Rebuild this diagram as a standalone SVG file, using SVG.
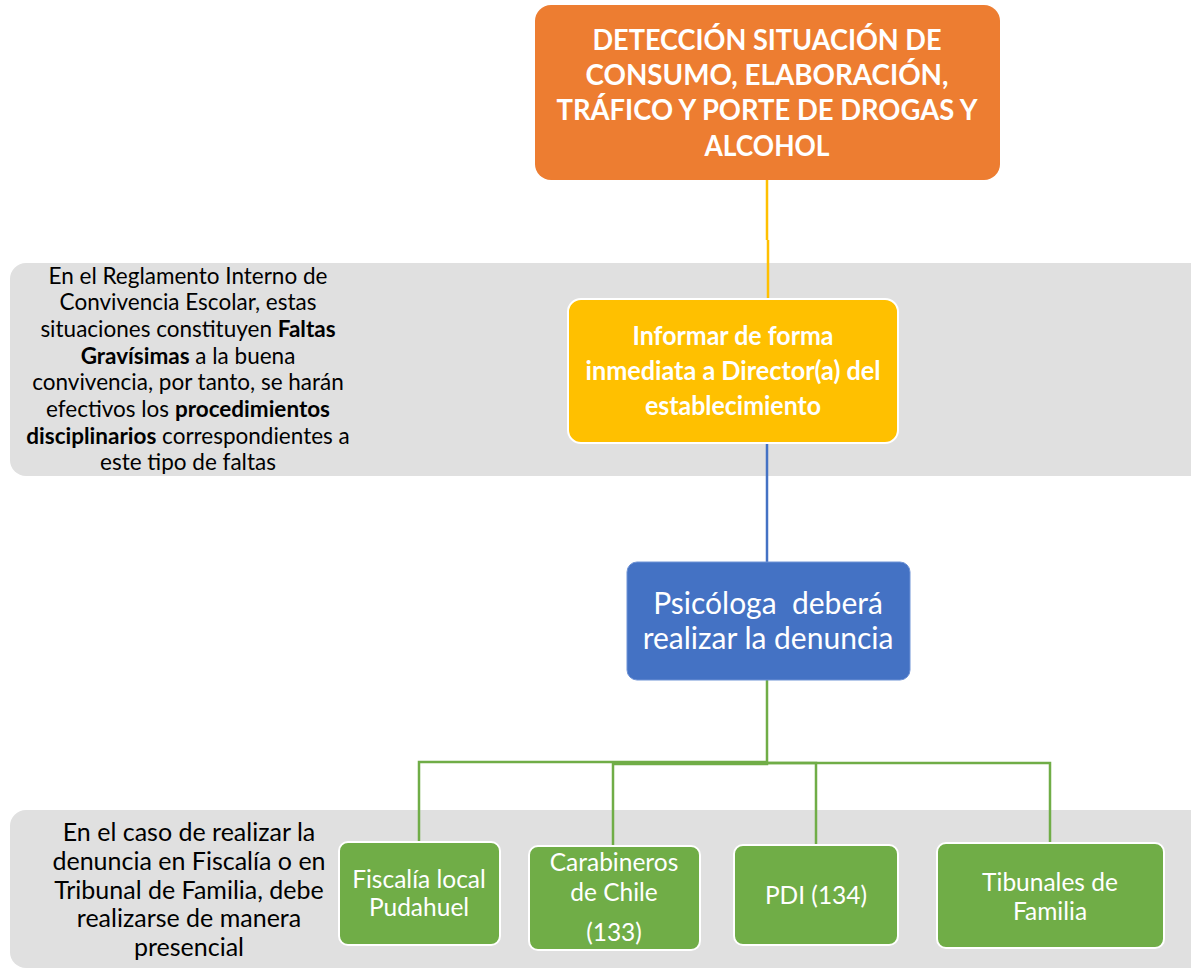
<svg xmlns="http://www.w3.org/2000/svg" width="1191" height="975" viewBox="0 0 1191 975">
<style>
.t{font-family:Lato,"Liberation Sans",sans-serif;text-anchor:middle}
.w{fill:#ffffff}
.k{fill:#000000}
.b{font-weight:bold}
.band{fill:#e0e0e0}
.conn{fill:none;stroke-width:2.5}
</style>
<rect width="1191" height="975" fill="#ffffff"/>
<g id="band1"><rect class="band" x="10" y="263" width="1200" height="213" rx="16"/></g>
<g id="band2"><rect class="band" x="10" y="810" width="1200" height="158" rx="16"/></g>
<g id="connectors">
<path class="conn" stroke="#FFC000" d="M767 180 V240 M768 240 V299"/>
<path class="conn" stroke="#4472C4" d="M767 443 V562"/>
<path class="conn" stroke="#70AD47" d="M767 680 V762 H419 V842"/>
<path class="conn" stroke="#70AD47" d="M767 762 V764 H613 V846"/>
<path class="conn" stroke="#70AD47" d="M767 763 H816 V845"/>
<path class="conn" stroke="#70AD47" d="M767 763 H1050 V843"/>
</g>
<g id="n-deteccion">
<rect x="535" y="5" width="465" height="175" rx="16" fill="#ED7D31"/>
<text class="t w b" font-size="29"><tspan x="767" y="50" textLength="349" lengthAdjust="spacingAndGlyphs">DETECCIÓN SITUACIÓN DE</tspan><tspan x="767" y="85" textLength="363" lengthAdjust="spacingAndGlyphs">CONSUMO, ELABORACIÓN,</tspan><tspan x="767" y="120" textLength="421" lengthAdjust="spacingAndGlyphs">TRÁFICO Y PORTE DE DROGAS Y</tspan><tspan x="767" y="156" textLength="125" lengthAdjust="spacingAndGlyphs">ALCOHOL</tspan></text>
</g>
<g id="n-informar">
<rect x="568" y="299" width="330" height="144" rx="13" fill="#FFC000" stroke="#ffffff" stroke-width="2"/>
<text class="t w b" font-size="26"><tspan x="733" y="345" textLength="201" lengthAdjust="spacingAndGlyphs">Informar de forma</tspan><tspan x="733" y="380" textLength="295" lengthAdjust="spacingAndGlyphs">inmediata a Director(a) del</tspan><tspan x="733" y="415" textLength="176" lengthAdjust="spacingAndGlyphs">establecimiento</tspan></text>
</g>
<g id="n-nota1">
<text class="t k" font-size="22.5"><tspan x="188" y="284">En el Reglamento Interno de</tspan><tspan x="188" y="310">Convivencia Escolar, estas</tspan><tspan x="188" y="337">situaciones constituyen <tspan class="b">Faltas</tspan></tspan><tspan x="188" y="364"><tspan class="b">Gravísimas</tspan> a la buena</tspan><tspan x="188" y="390">convivencia, por tanto, se harán</tspan><tspan x="188" y="417">efectivos los <tspan class="b">procedimientos</tspan></tspan><tspan x="188" y="444"><tspan class="b">disciplinarios</tspan> correspondientes a</tspan><tspan x="188" y="470">este tipo de faltas</tspan></text>
</g>
<g id="n-psicologa">
<rect x="627" y="562" width="283" height="118" rx="10" fill="#4472C4" stroke="#6f93d6" stroke-width="1"/>
<text class="t w" font-size="30"><tspan x="768" y="614" xml:space="preserve">Psicóloga  deberá</tspan><tspan x="768" y="649">realizar la denuncia</tspan></text>
</g>
<g id="n-nota2">
<text class="t k" font-size="25"><tspan x="189" y="841">En el caso de realizar la</tspan><tspan x="189" y="870">denuncia en Fiscalía o en</tspan><tspan x="189" y="899">Tribunal de Familia, debe</tspan><tspan x="189" y="927">realizarse de manera</tspan><tspan x="189" y="956">presencial</tspan></text>
</g>
<g id="n-fiscalia">
<rect x="339" y="842" width="161" height="103" rx="9" fill="#70AD47" stroke="#ffffff" stroke-width="2"/>
<text class="t w" font-size="24.5"><tspan x="419" y="888">Fiscalía local</tspan><tspan x="419" y="916">Pudahuel</tspan></text>
</g>
<g id="n-carabineros">
<rect x="529" y="846" width="171" height="104" rx="9" fill="#70AD47" stroke="#ffffff" stroke-width="2"/>
<text class="t w" font-size="24.5"><tspan x="614" y="871">Carabineros</tspan><tspan x="614" y="901">de Chile</tspan><tspan x="614" y="941">(133)</tspan></text>
</g>
<g id="n-pdi">
<rect x="734" y="845" width="164" height="100" rx="9" fill="#70AD47" stroke="#ffffff" stroke-width="2"/>
<text class="t w" font-size="24.5"><tspan x="816" y="904">PDI (134)</tspan></text>
</g>
<g id="n-tribunales">
<rect x="937" y="843" width="227" height="105" rx="9" fill="#70AD47" stroke="#ffffff" stroke-width="2"/>
<text class="t w" font-size="24.5"><tspan x="1050" y="891">Tibunales de</tspan><tspan x="1050" y="920">Familia</tspan></text>
</g>
</svg>
